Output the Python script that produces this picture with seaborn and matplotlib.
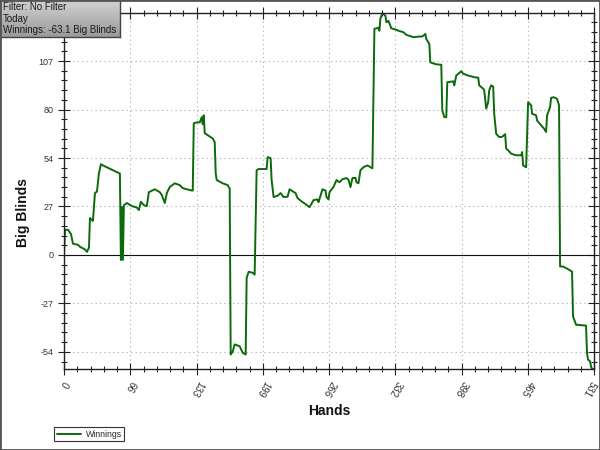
import numpy as np
import pandas as pd
import matplotlib
matplotlib.use("Agg")
import matplotlib.pyplot as plt
import matplotlib.transforms as mtransforms
from matplotlib.ticker import FixedLocator, MultipleLocator
from matplotlib.patches import Rectangle
import seaborn as sns

# ---- data ----
hands = [0, 1, 4, 7, 9, 14, 16, 21, 23, 25, 26, 29, 31, 33, 35, 37, 39, 54, 56,
         57, 58, 59, 60, 63, 68, 73, 75, 77, 80, 83, 85, 91, 96, 98, 101, 103, 106,
         111, 116, 119, 128, 129, 130, 133, 136, 138, 139, 140, 141, 149, 151, 152,
         153, 159, 164, 166, 167, 169, 171, 176, 179, 182, 183, 185, 189, 191, 193,
         195, 203, 204, 207, 208, 210, 214, 217, 220, 224, 226, 229, 232, 234, 239,
         242, 246, 250, 254, 255, 259, 262, 263, 265, 266, 270, 273, 276, 279, 283,
         285, 287, 289, 292, 293, 295, 297, 300, 304, 307, 309, 311, 313, 315, 316,
         317, 319, 322, 323, 325, 328, 332, 335, 340, 343, 347, 350, 356, 359, 362,
         363, 366, 367, 373, 378, 379, 381, 383, 384, 390, 391, 393, 398, 400, 405,
         411, 415, 416, 420, 421, 423, 425, 426, 428, 430, 431, 433, 436, 439, 442,
         443, 445, 448, 453, 458, 459, 460, 463, 464, 465, 468, 469, 473, 474, 478,
         481, 483, 484, 487, 488, 491, 494, 496, 497, 500, 503, 509, 510, 513, 523,
         524, 525, 527, 528, 529, 531]
winnings = [0, 13.9, 13.9, 11.5, 6.2, 5.6, 4.5, 3.0, 1.7, 4.0, 20.4, 18.8, 34.2,
            35.0, 45.1, 50.2, 49.5, 45.5, 45.0, -2.8, 26.5, -2.8, 27.5, 28.7, 27.0,
            26.2, 24.8, 29.4, 27.5, 27.0, 34.7, 36.3, 34.7, 33.1, 28.7, 34.2, 37.6,
            39.6, 38.6, 36.9, 35.6, 35.6, 72.8, 73.3, 73.3, 76.2, 72.3, 77.2, 67.3,
            64.4, 62.4, 45.1, 41.4, 39.6, 38.6, 36.6, -55.1, -53.5, -49.5, -50.5,
            -54.1, -55.1, -12.7, -9.3, -9.9, -10.9, 46.8, 47.5, 47.5, 54.1, 53.5,
            41.4, 32.0, 32.7, 34.2, 32.0, 32.2, 36.3, 35.2, 34.2, 31.4, 29.2, 28.1,
            26.4, 30.3, 30.7, 29.2, 36.3, 35.6, 32.0, 30.7, 34.7, 37.6, 41.4, 40.2,
            41.9, 42.5, 41.6, 37.5, 42.5, 42.6, 40.2, 39.6, 46.8, 48.5, 49.5, 48.5,
            47.9, 125.1, 125.3, 125.7, 124.0, 130.7, 133.8, 132.3, 128.7, 129.5,
            125.3, 124.7, 124.0, 123.2, 121.7, 121.0, 120.4, 120.8, 120.8, 122.2,
            119.4, 116.7, 106.5, 105.4, 105.2, 79.9, 76.2, 76.2, 95.5, 96.0, 93.8,
            99.2, 101.6, 100.2, 99.2, 98.3, 98.0, 93.8, 91.9, 91.1, 80.9, 84.5, 91.0,
            93.8, 93.1, 78.1, 67.0, 65.2, 65.3, 66.8, 58.8, 57.9, 56.0, 55.1, 55.1,
            56.9, 49.5, 48.5, 67.1, 84.5, 82.7, 78.1, 77.2, 74.3, 71.7, 69.8, 68.0,
            77.2, 81.8, 86.9, 87.2, 86.3, 82.7, -6.4, -6.4, -7.3, -9.2, -34.0, -38.6,
            -39.1, -54.2, -57.9, -58.8, -61.6, -63.1, -63.1]

x_ticks = [0, 66.375, 132.75, 199.125, 265.5, 331.875, 398.25, 464.625, 531]
x_tick_labels = ["0", "66", "133", "199", "266", "332", "398", "465", "531"]
y_ticks = [-53.6, -26.8, 0, 26.8, 53.6, 80.4, 107.2]
y_tick_labels = ["-54", "-27", "0", "27", "54", "80", "107"]

info_lines = ["Filter: No Filter", "Today", "Winnings: -63.1 Big Blinds"]
series_name = "Winnings"

df = pd.DataFrame({"Hands": hands, "Big Blinds": winnings})

sns.set_style("white")
plt.rcParams["font.family"] = ["Liberation Sans", "DejaVu Sans"]

fig = plt.figure(figsize=(6, 4.5), dpi=100)
ax = fig.add_axes([64 / 600, 1 - 369 / 450, 530 / 600, (369 - 13) / 450])

line_color = "#0b6a0b"
sns.lineplot(data=df, x="Hands", y="Big Blinds", ax=ax, color=line_color,
             linewidth=1.4, estimator=None, sort=False, label=series_name)
ax.get_legend().remove()

ax.set_xlim(0, 531)
ax.set_ylim(-63.1, 133.8)

ax.xaxis.set_major_locator(FixedLocator(x_ticks))
ax.set_xticklabels(x_tick_labels, rotation=-120, ha="center", va="top",
                   fontsize=7, color="#333333")
ax.xaxis.set_minor_locator(MultipleLocator(531 / 40))
ax.yaxis.set_major_locator(FixedLocator(y_ticks))
ax.set_yticklabels(y_tick_labels, fontsize=6.5, color="#333333")
ax.yaxis.set_minor_locator(MultipleLocator(26.8 / 5))

ax.tick_params(which="major", direction="inout", length=9, width=0.8,
               color="#222222", top=True, right=True, bottom=True, left=True,
               labeltop=False, labelright=False, pad=3)
ax.tick_params(which="minor", direction="inout", length=5, width=0.8,
               color="#222222", top=True, right=True, bottom=True, left=True)

# keep the last x label inside the picture
last = ax.get_xticklabels()[-1]
last.set_transform(last.get_transform() +
                   mtransforms.ScaledTranslation(-5 / 100, 0, fig.dpi_scale_trans))

ax.grid(True, which="major", color="#a8a8a8", linestyle=(0, (1, 3)), linewidth=0.8)
ax.axhline(0, color="#111111", linewidth=0.8, zorder=1)
for s in ax.spines.values():
    s.set_color("#222222")
    s.set_linewidth(1.0)

ax.set_xlabel("Hands", fontsize=10, fontweight="bold", color="#111111")
ax.set_ylabel("Big Blinds", fontsize=10, fontweight="bold", color="#111111")
ax.xaxis.set_label_coords(0.5, -0.098)
ax.yaxis.set_label_coords(-0.064, 0.44)

# legend below the plot
handles, labels = ax.get_legend_handles_labels()
leg = fig.legend(handles, labels, loc="upper left",
                 bbox_to_anchor=(54 / 600, 1 - 427 / 450), fontsize=6.3,
                 frameon=True, fancybox=False, framealpha=1, edgecolor="#333333",
                 handlelength=2.8, handletextpad=0.5, borderpad=0.3,
                 borderaxespad=0)
leg.get_frame().set_linewidth(0.8)

# info box with gradient
bax = fig.add_axes([0, 1 - 37 / 450, 120 / 600, 37 / 450])
grad = np.linspace(0, 1, 64).reshape(-1, 1)
bax.imshow(grad, aspect="auto", cmap=matplotlib.colors.LinearSegmentedColormap.from_list(
    "g", ["#d2d2d2", "#9a9a9a"]), extent=[0, 1, 0, 1], origin="upper")
bax.set_xticks([])
bax.set_yticks([])
for s in bax.spines.values():
    s.set_color("#444444")
    s.set_linewidth(1.0)
for i, t in enumerate(info_lines):
    bax.text(0.025, 0.80 - i * 0.30, t, transform=bax.transAxes, fontsize=7,
             color="#1a1a1a", va="center", ha="left")

# outer border
fig.add_artist(Rectangle((0, 0), 1, 1, transform=fig.transFigure, fill=False,
                         edgecolor="#555555", linewidth=2))

fig.savefig("out.png", dpi=100)
